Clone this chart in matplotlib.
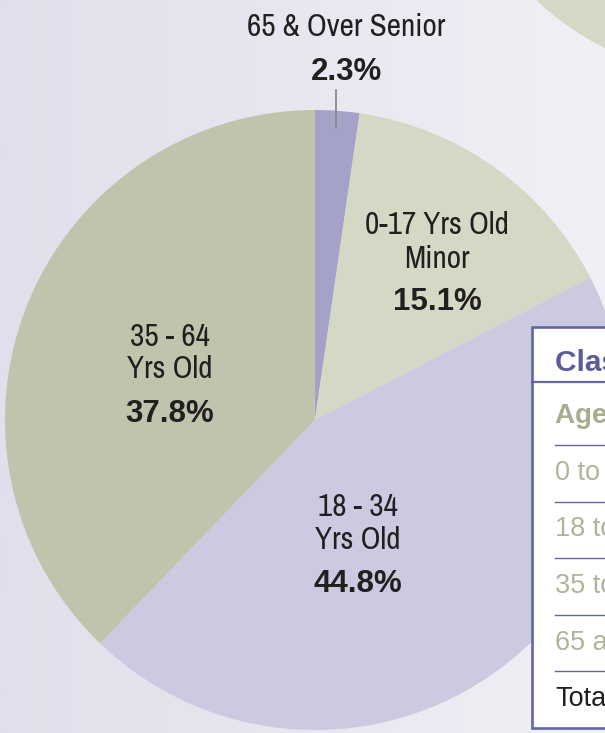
import numpy as np
import matplotlib.pyplot as plt
from matplotlib.patches import Circle, Rectangle
from matplotlib.colors import LinearSegmentedColormap

W, H = 605, 733

# data
groups = ['65 & Over Senior', '0-17 Yrs Old\nMinor', '18 - 34\nYrs Old', '35 - 64\nYrs Old']
shares = [2.3, 15.1, 44.8, 37.8]
slice_colors = ['#a4a2c9', '#d5d8c4', '#cccae0', '#c0c4ac']

table_title = 'Classification by Age'
table_rows = ['Age Group', '0 to 17', '18 to 34', '35 to 64', '65 and Over', 'Total']

# layout (pixel coords, y measured from the top)
label_x = [346, 437, 358, 170]
name_base = [[36], [234, 268], [516, 549], [346, 378]]
pct_base = [80, 310, 592, 422]
narrow = ['Liberation Sans Narrow', 'Archivo Narrow', 'DejaVu Sans']
plain = ['Liberation Sans', 'DejaVu Sans']
ink = '#231f20'

fig = plt.figure(figsize=(W / 100, H / 100), dpi=100)
ax = fig.add_axes([0, 0, 1, 1])

# background gradient
grad = np.linspace(0, 1, 256).reshape(1, -1)
cmap = LinearSegmentedColormap.from_list('bg', ['#e0dfeb', '#f1f0f6'])
ax.imshow(grad, extent=[0, W, 0, H], aspect='auto', cmap=cmap, zorder=0)

# edge of the neighbouring chart, top right
ax.add_patch(Circle((738, H + 215), 295, color='#d5d8c4', lw=0, zorder=1))

ax.pie(shares, colors=slice_colors, startangle=90, counterclock=False,
       center=(315, H - 420), radius=310, frame=True,
       wedgeprops=dict(linewidth=0, zorder=2))

ax.set_xlim(0, W)
ax.set_ylim(0, H)
ax.set_aspect('auto')
ax.axis('off')

for name, v, x, bases, pb in zip(groups, shares, label_x, name_base, pct_base):
    for line, yb in zip(name.split('\n'), bases):
        ax.text(x, H - yb, line, ha='center', va='baseline', fontsize=22.5,
                family=narrow, color=ink, zorder=5)
    ax.text(x, H - pb, f'{v:.1f}%', ha='center', va='baseline', fontsize=22.5,
            family=plain, fontweight='bold', color=ink, zorder=5)

# leader line for the small slice
ax.plot([336, 336], [H - 90, H - 128], color='#8a8a8a', lw=1.3, zorder=5)

# table box on the right
edge = '#6466a4'
ax.add_patch(Rectangle((532, H - 728), 200, 401, facecolor='white',
                       edgecolor=edge, lw=1.9, zorder=6, clip_on=False))
ax.plot([532, W], [H - 382, H - 382], color=edge, lw=1.6, zorder=7)
for i in range(len(table_rows) - 1):
    yl = 445 + 56.5 * i
    ax.plot([555, W], [H - yl, H - yl], color=edge, lw=1.0, zorder=7)

ax.text(555, H - 371, table_title, ha='left', va='baseline', fontsize=21.5,
        family=plain, fontweight='bold', color='#5b5c99', zorder=8)
for i, row in enumerate(table_rows):
    yb = 423 + 56.7 * i
    if i == 0:
        c, w, fs = '#a9ac8f', 'bold', 20
    elif i == len(table_rows) - 1:
        c, w, fs = ink, 'normal', 19.5
    else:
        c, w, fs = '#b1b49a', 'normal', 19.5
    ax.text(555, H - yb, row, ha='left', va='baseline', fontsize=fs,
            family=plain, fontweight=w, color=c, zorder=8)

fig.savefig('out.png', dpi=100)
